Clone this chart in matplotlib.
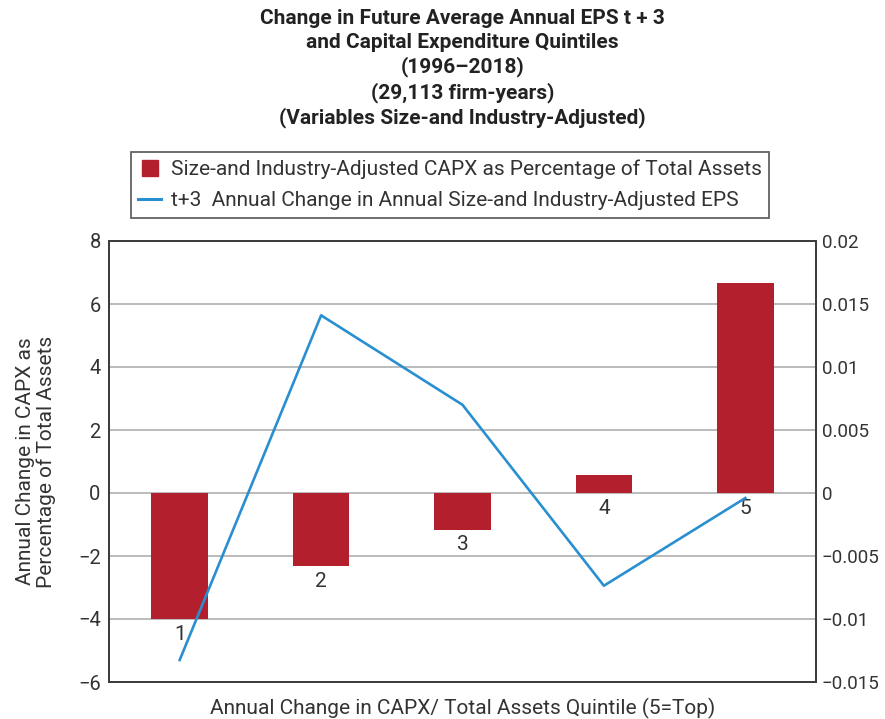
import matplotlib

matplotlib.use("Agg")
import matplotlib.pyplot as plt
from matplotlib.lines import Line2D
from matplotlib.ticker import FuncFormatter

plt.rcParams["font.family"] = ["Roboto", "DejaVu Sans"]

quintiles = ["1", "2", "3", "4", "5"]
capx_pct = [-4.0, -2.33, -1.16, 0.57, 6.67]
eps_change = [-0.01325, 0.0141, 0.0070, -0.00736, -0.0004]

title = ("Change in Future Average Annual EPS t + 3\n"
         "and Capital Expenditure Quintiles\n"
         "(1996\u20132018)\n"
         "(29,113 firm-years)\n"
         "(Variables Size-and Industry-Adjusted)")
bar_label = "Size-and Industry-Adjusted CAPX as Percentage of Total Assets"
line_label = "t+3  Annual Change in Annual Size-and Industry-Adjusted EPS"

RED = "#b41f2e"
BLUE = "#2a8fd1"
TXT = "#333333"
SPINE = "#3c3c3c"
GRID = "#a8a8a8"
FS = 15


def fmt(v, _):
    s = f"{v:g}"
    return s.replace("-", "\u2212")


fig = plt.figure(figsize=(8.85, 7.19), dpi=100)
ax = fig.add_axes([109 / 885, 1 - 682 / 719, 707 / 885, 441 / 719])
x = list(range(len(quintiles)))

ax.bar(x, capx_pct, width=0.40, color=RED, zorder=3)
ax.set_xlim(-0.5, 4.5)
ax.set_ylim(-6, 8)
ax.set_yticks(range(-6, 9, 2))
ax.yaxis.set_major_formatter(FuncFormatter(fmt))
ax.set_xticks([])
ax.grid(axis="y", color=GRID, lw=1.1, zorder=0)
ax.tick_params(axis="y", length=0, pad=6, labelsize=14.5, labelcolor=TXT)
for sp in ax.spines.values():
    sp.set_color(SPINE)
    sp.set_linewidth(1.3)

for xi, v, q in zip(x, capx_pct, quintiles):
    ax.annotate(q, xy=(xi, min(v, 0)), xytext=(0, -4), textcoords="offset points",
                ha="center", va="top", fontsize=FS, color=TXT, zorder=4)

ax.set_ylabel("Annual Change in CAPX as\nPercentage of Total Assets",
              fontsize=FS, color=TXT, linespacing=1.12)
ax.yaxis.set_label_coords(-0.075, 0.5)
ax.set_xlabel("Annual Change in CAPX/ Total Assets Quintile (5=Top)",
              fontsize=FS, color=TXT)
ax.xaxis.set_label_coords(0.5, -0.036)
ax.xaxis.label.set_va("top")

ax2 = ax.twinx()
ax2.plot(x, eps_change, color=BLUE, lw=1.9, zorder=5)
ax2.set_ylim(-0.015, 0.02)
ax2.set_yticks([-0.015, -0.01, -0.005, 0, 0.005, 0.01, 0.015, 0.02])
ax2.yaxis.set_major_formatter(FuncFormatter(fmt))
ax2.tick_params(axis="y", length=0, pad=4, labelsize=13.5, labelcolor=TXT)
for sp in ax2.spines.values():
    sp.set_color(SPINE)
    sp.set_linewidth(1.3)

handles = [
    Line2D([], [], marker="s", ls="", color=RED, markersize=11),
    Line2D([], [], color=BLUE, lw=2.2),
]
leg = fig.legend(handles, [bar_label, line_label], loc="upper left",
                 bbox_to_anchor=(131 / 885, 1 - 152 / 719), bbox_transform=fig.transFigure,
                 fontsize=FS, frameon=True, fancybox=False, borderpad=0.35,
                 labelspacing=0.6, handlelength=1.1, handletextpad=0.45,
                 borderaxespad=0)
leg.get_frame().set_edgecolor(SPINE)
leg.get_frame().set_linewidth(1.3)
for t in leg.get_texts():
    t.set_color(TXT)

fig.text(462.5 / 885, 1 - 9 / 719, title, ha="center", va="top", fontsize=FS,
         fontweight="bold", color="#222222", linespacing=1.3)

fig.savefig("out.png", dpi=100)
